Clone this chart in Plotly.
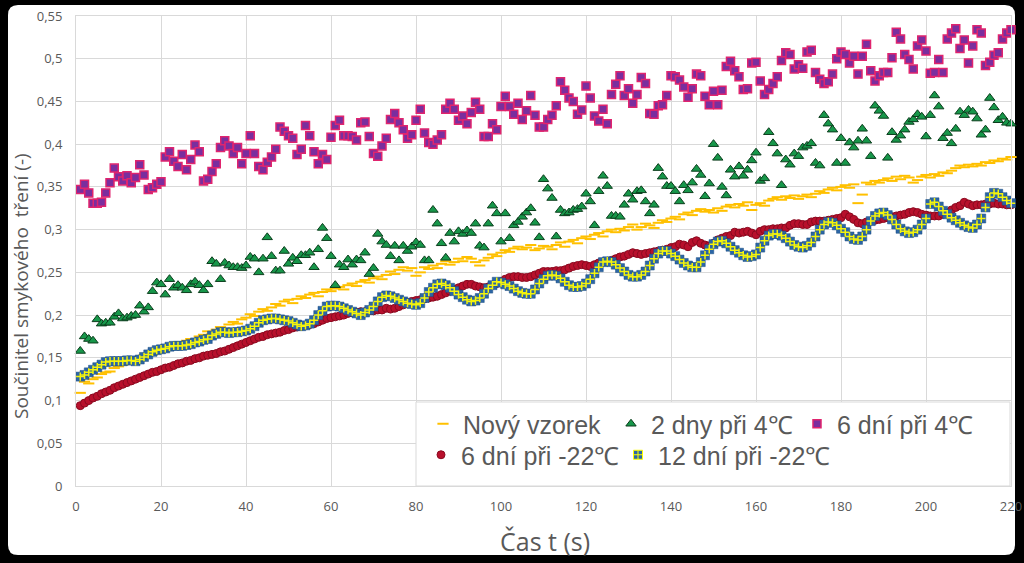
import plotly.graph_objects as go

# ---------------- data ----------------
t = list(range(1, 221))

novy_vzorek = [
    0.109, 0.122, 0.120, 0.125, 0.127, 0.131, 0.133, 0.134, 0.138, 0.140,
    0.142, 0.145, 0.147, 0.146, 0.150, 0.153, 0.155, 0.154, 0.158, 0.160,
    0.163, 0.162, 0.165, 0.168, 0.166, 0.170, 0.172, 0.171, 0.175, 0.177,
    0.181, 0.178, 0.183, 0.186, 0.184, 0.189, 0.192, 0.190, 0.195, 0.197,
    0.201, 0.199, 0.204, 0.207, 0.205, 0.209, 0.213, 0.211, 0.216, 0.218,
    0.214, 0.219, 0.222, 0.220, 0.224, 0.226, 0.222, 0.227, 0.230, 0.228,
    0.231, 0.233, 0.230, 0.235, 0.237, 0.234, 0.239, 0.241, 0.238, 0.243,
    0.245, 0.242, 0.247, 0.251, 0.248, 0.253, 0.256, 0.252, 0.255, 0.246,
    0.250, 0.256, 0.254, 0.258, 0.255, 0.260, 0.263, 0.259, 0.262, 0.266,
    0.263, 0.268, 0.266, 0.262, 0.258, 0.264, 0.267, 0.271, 0.269, 0.273,
    0.276, 0.274, 0.278, 0.280, 0.277, 0.279, 0.282, 0.276, 0.278, 0.281,
    0.280, 0.277, 0.282, 0.285, 0.280, 0.286, 0.288, 0.284, 0.290, 0.292,
    0.289, 0.294, 0.296, 0.292, 0.298, 0.300, 0.297, 0.301, 0.299, 0.303,
    0.306, 0.300, 0.303, 0.307, 0.305, 0.302, 0.308, 0.311, 0.309, 0.313,
    0.315, 0.312, 0.318, 0.320, 0.317, 0.322, 0.324, 0.321, 0.323, 0.320,
    0.325, 0.322, 0.327, 0.329, 0.326, 0.330, 0.328, 0.332, 0.323, 0.329,
    0.331, 0.328, 0.334, 0.336, 0.338, 0.335, 0.339, 0.337, 0.340, 0.336,
    0.339, 0.341, 0.338, 0.342, 0.345, 0.343, 0.347, 0.349, 0.346, 0.350,
    0.352, 0.349, 0.353, 0.331, 0.341, 0.355, 0.353, 0.357, 0.355, 0.358,
    0.360, 0.357, 0.362, 0.359, 0.363, 0.361, 0.355, 0.358, 0.362, 0.364,
    0.361, 0.365, 0.363, 0.367, 0.366, 0.369, 0.372, 0.375, 0.373, 0.376,
    0.374, 0.377, 0.375, 0.379, 0.378, 0.381, 0.380, 0.383, 0.382, 0.385,
]

dny2_4c = [
    0.158, 0.175, 0.172, 0.170, 0.195, 0.190, 0.191, 0.191, 0.198, 0.202,
    0.196, 0.197, 0.199, 0.200, 0.211, 0.204, 0.209, 0.228, 0.238, 0.236,
    0.224, 0.242, 0.232, 0.235, 0.232, 0.229, 0.236, 0.239, 0.235, 0.229,
    0.236, 0.263, 0.260, 0.242, 0.261, 0.258, 0.256, 0.256, 0.255, 0.258,
    0.268, 0.266, 0.250, 0.266, 0.291, 0.269, 0.252, 0.252, 0.275, 0.260,
    0.267, 0.263, 0.270, 0.270, 0.273, 0.256, 0.277, 0.302, 0.290, 0.269,
    0.235, 0.259, 0.256, 0.265, 0.259, 0.265, 0.264, 0.273, 0.248, 0.255,
    0.295, 0.286, 0.282, 0.269, 0.281, 0.264, 0.281, 0.275, 0.280, 0.285,
    0.282, 0.264, 0.264, 0.323, 0.307, 0.284, 0.267, 0.296, 0.286, 0.298,
    0.295, 0.299, 0.296, 0.307, 0.281, 0.279, 0.307, 0.328, 0.319, 0.286,
    0.319, 0.290, 0.305, 0.309, 0.315, 0.320, 0.325, 0.308, 0.291, 0.359,
    0.348, 0.337, 0.292, 0.323, 0.319, 0.320, 0.323, 0.324, 0.327, 0.342,
    0.333, 0.305, 0.345, 0.363, 0.351, 0.316, 0.316, 0.315, 0.329, 0.342,
    0.335, 0.345, 0.346, 0.333, 0.319, 0.329, 0.372, 0.362, 0.351, 0.351,
    0.345, 0.333, 0.352, 0.346, 0.355, 0.371, 0.364, 0.339, 0.354, 0.400,
    0.384, 0.350, 0.340, 0.370, 0.362, 0.374, 0.363, 0.370, 0.381, 0.390,
    0.357, 0.360, 0.414, 0.401, 0.389, 0.352, 0.382, 0.376, 0.389, 0.386,
    0.396, 0.398, 0.401, 0.378, 0.375, 0.434, 0.424, 0.417, 0.378, 0.407,
    0.378, 0.402, 0.396, 0.404, 0.418, 0.404, 0.386, 0.445, 0.439, 0.433,
    0.384, 0.414, 0.405, 0.410, 0.417, 0.426, 0.429, 0.435, 0.432, 0.409,
    0.434, 0.457, 0.444, 0.407, 0.413, 0.401, 0.418, 0.438, 0.434, 0.440,
    0.438, 0.430, 0.411, 0.417, 0.454, 0.443, 0.428, 0.432, 0.425, 0.424,
]

dni6_4c = [
    0.347, 0.353, 0.343, 0.331, 0.331, 0.332, 0.343, 0.355, 0.372, 0.362,
    0.357, 0.363, 0.355, 0.361, 0.376, 0.364, 0.347, 0.349, 0.353, 0.356,
    0.385, 0.391, 0.380, 0.374, 0.388, 0.370, 0.382, 0.399, 0.391, 0.357,
    0.359, 0.368, 0.377, 0.396, 0.404, 0.398, 0.389, 0.396, 0.377, 0.389,
    0.410, 0.389, 0.374, 0.370, 0.379, 0.385, 0.394, 0.420, 0.415, 0.410,
    0.407, 0.388, 0.394, 0.422, 0.410, 0.391, 0.377, 0.388, 0.382, 0.408,
    0.422, 0.428, 0.410, 0.410, 0.409, 0.405, 0.425, 0.426, 0.409, 0.389,
    0.386, 0.398, 0.407, 0.429, 0.436, 0.425, 0.417, 0.407, 0.411, 0.428,
    0.441, 0.413, 0.402, 0.400, 0.405, 0.411, 0.441, 0.448, 0.441, 0.428,
    0.433, 0.424, 0.437, 0.449, 0.441, 0.409, 0.409, 0.424, 0.417, 0.444,
    0.456, 0.444, 0.435, 0.448, 0.429, 0.439, 0.457, 0.434, 0.420, 0.420,
    0.429, 0.434, 0.445, 0.473, 0.463, 0.454, 0.450, 0.435, 0.440, 0.468,
    0.454, 0.433, 0.427, 0.441, 0.424, 0.458, 0.470, 0.480, 0.457, 0.465,
    0.448, 0.458, 0.478, 0.471, 0.436, 0.435, 0.445, 0.446, 0.457, 0.480,
    0.479, 0.475, 0.467, 0.455, 0.465, 0.482, 0.480, 0.456, 0.446, 0.462,
    0.446, 0.463, 0.491, 0.497, 0.486, 0.479, 0.464, 0.465, 0.495, 0.496,
    0.474, 0.458, 0.464, 0.471, 0.479, 0.498, 0.507, 0.505, 0.488, 0.493,
    0.489, 0.508, 0.510, 0.484, 0.476, 0.471, 0.473, 0.482, 0.500, 0.508,
    0.505, 0.495, 0.503, 0.482, 0.503, 0.517, 0.486, 0.474, 0.480, 0.484,
    0.484, 0.501, 0.531, 0.523, 0.505, 0.499, 0.488, 0.515, 0.522, 0.509,
    0.483, 0.484, 0.499, 0.484, 0.523, 0.530, 0.535, 0.512, 0.522, 0.495,
    0.515, 0.534, 0.530, 0.492, 0.496, 0.504, 0.507, 0.523, 0.530, 0.534,
]

dni6_m22c = [
    0.094, 0.097, 0.100, 0.103, 0.105, 0.108, 0.110, 0.112, 0.115, 0.117,
    0.119, 0.121, 0.123, 0.125, 0.127, 0.129, 0.131, 0.133, 0.134, 0.136,
    0.138, 0.139, 0.141, 0.143, 0.144, 0.146, 0.147, 0.149, 0.150, 0.152,
    0.153, 0.154, 0.155, 0.157, 0.158, 0.160, 0.162, 0.164, 0.166, 0.168,
    0.170, 0.172, 0.174, 0.175, 0.177, 0.178, 0.179, 0.180, 0.182, 0.183,
    0.185, 0.186, 0.187, 0.188, 0.189, 0.190, 0.192, 0.194, 0.196, 0.197,
    0.198, 0.199, 0.200, 0.202, 0.203, 0.203, 0.204, 0.204, 0.205, 0.205,
    0.206, 0.206, 0.208, 0.207, 0.208, 0.210, 0.212, 0.214, 0.216, 0.217,
    0.218, 0.219, 0.220, 0.221, 0.222, 0.224, 0.226, 0.228, 0.230, 0.232,
    0.234, 0.236, 0.236, 0.234, 0.233, 0.232, 0.233, 0.235, 0.237, 0.239,
    0.242, 0.244, 0.245, 0.245, 0.244, 0.244, 0.245, 0.247, 0.249, 0.251,
    0.251, 0.251, 0.252, 0.252, 0.253, 0.255, 0.257, 0.258, 0.259, 0.258,
    0.257, 0.259, 0.261, 0.262, 0.263, 0.264, 0.266, 0.268, 0.269, 0.271,
    0.273, 0.272, 0.271, 0.272, 0.273, 0.274, 0.275, 0.276, 0.277, 0.279,
    0.280, 0.283, 0.282, 0.280, 0.285, 0.287, 0.284, 0.282, 0.281, 0.284,
    0.288, 0.290, 0.292, 0.293, 0.297, 0.296, 0.297, 0.298, 0.296, 0.294,
    0.298, 0.300, 0.300, 0.301, 0.301, 0.302, 0.302, 0.305, 0.307, 0.307,
    0.306, 0.306, 0.309, 0.310, 0.310, 0.310, 0.311, 0.312, 0.313, 0.314,
    0.318, 0.315, 0.312, 0.308, 0.307, 0.309, 0.310, 0.311, 0.312, 0.313,
    0.314, 0.315, 0.316, 0.317, 0.318, 0.320, 0.321, 0.320, 0.318, 0.317,
    0.316, 0.316, 0.316, 0.318, 0.320, 0.323, 0.326, 0.328, 0.332, 0.330,
    0.328, 0.329, 0.329, 0.330, 0.330, 0.331, 0.330, 0.330, 0.329, 0.329,
]

dni12_m22c = [
    0.128, 0.130, 0.133, 0.136, 0.139, 0.142, 0.145, 0.146, 0.146, 0.146,
    0.146, 0.147, 0.147, 0.146, 0.148, 0.151, 0.154, 0.157, 0.159, 0.160,
    0.161, 0.163, 0.164, 0.164, 0.164, 0.165, 0.166, 0.168, 0.169, 0.171,
    0.172, 0.176, 0.178, 0.180, 0.180, 0.179, 0.180, 0.180, 0.181, 0.182,
    0.184, 0.187, 0.191, 0.194, 0.195, 0.196, 0.196, 0.195, 0.194, 0.193,
    0.191, 0.189, 0.187, 0.188, 0.190, 0.194, 0.200, 0.205, 0.210, 0.211,
    0.211, 0.210, 0.208, 0.206, 0.204, 0.202, 0.200, 0.203, 0.206, 0.210,
    0.216, 0.221, 0.223, 0.222, 0.220, 0.218, 0.216, 0.214, 0.213, 0.212,
    0.214, 0.220, 0.227, 0.232, 0.236, 0.237, 0.235, 0.232, 0.228, 0.224,
    0.221, 0.218, 0.216, 0.217, 0.220, 0.225, 0.231, 0.235, 0.239, 0.238,
    0.236, 0.234, 0.231, 0.228, 0.226, 0.225, 0.225, 0.230, 0.237, 0.242,
    0.246, 0.247, 0.246, 0.243, 0.239, 0.235, 0.233, 0.233, 0.234, 0.237,
    0.242, 0.249, 0.256, 0.262, 0.263, 0.262, 0.259, 0.255, 0.251, 0.247,
    0.245, 0.245, 0.247, 0.251, 0.258, 0.266, 0.272, 0.275, 0.275, 0.272,
    0.269, 0.265, 0.261, 0.258, 0.256, 0.256, 0.262, 0.270, 0.277, 0.283,
    0.286, 0.287, 0.284, 0.280, 0.276, 0.273, 0.270, 0.268, 0.269, 0.271,
    0.279, 0.287, 0.293, 0.295, 0.295, 0.293, 0.290, 0.286, 0.282, 0.280,
    0.279, 0.281, 0.285, 0.292, 0.300, 0.306, 0.309, 0.308, 0.305, 0.301,
    0.297, 0.292, 0.289, 0.288, 0.292, 0.300, 0.310, 0.316, 0.319, 0.320,
    0.317, 0.312, 0.306, 0.301, 0.298, 0.296, 0.297, 0.300, 0.306, 0.313,
    0.330, 0.332, 0.327, 0.322, 0.318, 0.314, 0.311, 0.308, 0.305, 0.303,
    0.302, 0.306, 0.313, 0.326, 0.338, 0.343, 0.342, 0.338, 0.334, 0.331,
]

series_names = ["Nový vzorek", "2 dny při 4℃", "6 dní při 4℃",
                "6 dní při -22℃", "12 dní při -22℃"]

x_ticks = [0, 20, 40, 60, 80, 100, 120, 140, 160, 180, 200, 220]
y_ticks = [0, 0.05, 0.1, 0.15, 0.2, 0.25, 0.3, 0.35, 0.4, 0.45, 0.5, 0.55]
y_ticklabels = ["0", "0,05", "0,1", "0,15", "0,2", "0,25", "0,3", "0,35",
                "0,4", "0,45", "0,5", "0,55"]

# ---------------- layout geometry (pixels) ----------------
W, H = 1024, 563
PL, PR, PT, PB = 76, 1011, 16, 486     # plot area in pixels


def px_x(px):
    return (px - PL) / (PR - PL)


def px_y(py):
    return (PB - py) / (PB - PT)


GRAY = "#595959"
GRID = "#D9D9D9"
BLUE = "#2B66A6"

fig = go.Figure()

fig.add_trace(go.Scatter(
    x=t, y=novy_vzorek, mode="markers", name=series_names[0], cliponaxis=False,
    marker=dict(symbol="line-ew", size=8, color="#FFC000",
                line=dict(color="#FFC000", width=2)),
    legend="legend"))
fig.add_trace(go.Scatter(
    x=t, y=dny2_4c, mode="markers", name=series_names[1], cliponaxis=False,
    marker=dict(symbol="triangle-up", size=9, color="#17974A",
                line=dict(color="#0B3D1C", width=1)),
    legend="legend2"))
fig.add_trace(go.Scatter(
    x=t, y=dni6_4c, mode="markers", name=series_names[2], cliponaxis=False,
    marker=dict(symbol="square", size=8, color="#7A2E9E",
                line=dict(color="#E0246E", width=1.5)),
    legend="legend3"))
fig.add_trace(go.Scatter(
    x=t, y=dni6_m22c, mode="markers", name=series_names[3], cliponaxis=False,
    marker=dict(symbol="circle", size=8, color="#B8102C",
                line=dict(color="#8A0A20", width=1)),
    legend="legend4"))
# 12 days: blue squares with a yellow cross drawn on top
fig.add_trace(go.Scatter(
    x=t, y=dni12_m22c, mode="markers", name=series_names[4], cliponaxis=False,
    marker=dict(symbol="square", size=9, color=BLUE,
                line=dict(color="#1F4F80", width=0.5)),
    showlegend=False, legendgroup="g12"))
fig.add_trace(go.Scatter(
    x=t, y=dni12_m22c, mode="markers", name=series_names[4], cliponaxis=False,
    marker=dict(symbol="cross-thin", size=6, color="#FFFF00",
                line=dict(color="#F4F40C", width=1.5)),
    showlegend=False, legendgroup="g12", hoverinfo="skip"))
# legend key for the 12-day series (no data of its own)
fig.add_trace(go.Scatter(
    x=[None], y=[None], mode="markers", name=series_names[4],
    marker=dict(symbol="square-cross", size=9, color=BLUE,
                line=dict(color="#FFFF00", width=1)),
    legend="legend5", legendgroup="g12"))

# white rounded panel inside the black frame
fx0, fx1 = px_x(8), px_x(1015)
fy0, fy1 = px_y(555), px_y(5)
rx, ry = 10 / (PR - PL), 10 / (PB - PT)
panel = (f"M {fx0+rx},{fy0} L {fx1-rx},{fy0} Q {fx1},{fy0} {fx1},{fy0+ry} "
         f"L {fx1},{fy1-ry} Q {fx1},{fy1} {fx1-rx},{fy1} "
         f"L {fx0+rx},{fy1} Q {fx0},{fy1} {fx0},{fy1-ry} "
         f"L {fx0},{fy0+ry} Q {fx0},{fy0} {fx0+rx},{fy0} Z")

shapes = [
    dict(type="path", xref="paper", yref="paper", path=panel,
         fillcolor="white", line=dict(width=0), layer="below"),
    dict(type="rect", xref="paper", yref="paper",
         x0=px_x(416), x1=px_x(1010), y0=px_y(486), y1=px_y(402),
         fillcolor="white", line=dict(color=GRID, width=1), layer="above"),
]

annotations = [
    dict(text="Součinitel smykového  tření (-)", xref="paper", yref="paper",
         x=px_x(21), y=px_y(286), textangle=-90, showarrow=False,
         font=dict(family="Open Sans", size=19, color=GRAY),
         xanchor="center", yanchor="middle"),
    dict(text="Čas t (s)", xref="paper", yref="paper",
         x=px_x(545), y=px_y(541), showarrow=False,
         font=dict(family="Open Sans", size=25, color=GRAY),
         xanchor="center", yanchor="middle"),
]

legend_font = dict(family="Liberation Sans", size=25, color=GRAY)


def leg(text_left_px, top_px):
    return dict(orientation="h", x=px_x(text_left_px - 41), y=px_y(top_px),
                xanchor="left", yanchor="top", bgcolor="rgba(0,0,0,0)",
                borderwidth=0, font=legend_font, itemclick=False,
                itemdoubleclick=False)


fig.update_layout(
    width=W, height=H,
    margin=dict(l=PL, r=W - PR, t=PT, b=H - PB, autoexpand=False),
    paper_bgcolor="black",
    plot_bgcolor="white",
    showlegend=True,
    shapes=shapes,
    annotations=annotations,
    legend=leg(464, 401),
    legend2=leg(652, 401),
    legend3=leg(838, 401),
    legend4=leg(462, 432),
    legend5=leg(659, 432),
    xaxis=dict(range=[0, 220], tickvals=x_ticks, showgrid=True,
               gridcolor=GRID, gridwidth=1, zeroline=False,
               showline=True, linecolor=GRID, mirror=True, ticks="",
               ticklabelstandoff=8,
               tickfont=dict(family="Open Sans", size=13, color=GRAY)),
    yaxis=dict(range=[0, 0.55], tickvals=y_ticks, ticktext=y_ticklabels,
               showgrid=True, gridcolor=GRID, gridwidth=1, zeroline=False,
               showline=True, linecolor=GRID, mirror=True, ticks="",
               ticklabelstandoff=10,
               tickfont=dict(family="Open Sans", size=13, color=GRAY)),
)

fig.write_html("out.html", config={"displayModeBar": False},
               post_script="document.body.style.margin='0';")
